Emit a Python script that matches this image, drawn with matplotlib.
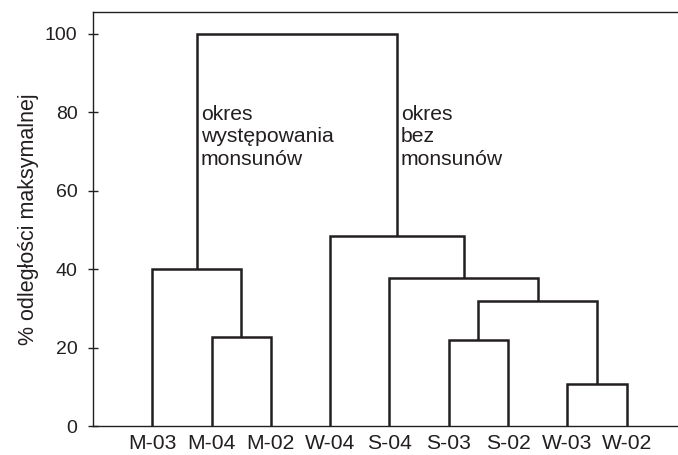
import matplotlib
matplotlib.use("Agg")
import matplotlib.pyplot as plt

plt.rcParams['font.family'] = ['Liberation Sans', 'DejaVu Sans']

# Leaves in dendrogram order
leaves = ['M-03', 'M-04', 'M-02', 'W-04', 'S-04', 'S-03', 'S-02', 'W-03', 'W-02']
# Merges: cluster ids 0..8 are leaves, each merge creates id 9, 10, ...
merge_left = [1, 0, 5, 7, 11, 4, 3, 10]
merge_right = [2, 9, 6, 8, 12, 13, 14, 15]
merge_height = [22.7, 40.0, 22.0, 10.6, 31.8, 37.8, 48.4, 100.0]

y_ticks = [0, 20, 40, 60, 80, 100]
y_label = '% odległości maksymalnej'
note_left = 'okres\nwystępowania\nmonsunów'
note_right = 'okres\nbez\nmonsunów'

ink = '#231f20'

fig = plt.figure(figsize=(6.78, 4.55), dpi=100)
ax = fig.add_axes([0.137, 0.0637, 0.863, 0.9099])

pos = {i: float(i) for i in range(len(leaves))}
hgt = {i: 0.0 for i in range(len(leaves))}
for k, (a, b, h) in enumerate(zip(merge_left, merge_right, merge_height)):
    cid = len(leaves) + k
    xa, xb = pos[a], pos[b]
    ax.plot([xa, xa, xb, xb], [hgt[a], h, h, hgt[b]], color=ink, lw=1.8,
            solid_joinstyle='miter', solid_capstyle='butt', clip_on=False)
    pos[cid] = (xa + xb) / 2
    hgt[cid] = h

left_child = merge_left[-1]
right_child = merge_right[-1]
ax.text(pos[left_child] + 0.07, 81.8, note_left, fontsize=15.2, color=ink,
        va='top', ha='left', linespacing=1.22)
ax.text(pos[right_child] + 0.07, 81.8, note_right, fontsize=15.2, color=ink,
        va='top', ha='left', linespacing=1.22)

ax.set_xlim(-1, 8.864)
ax.set_ylim(0, 105.5)
ax.set_xticks(range(len(leaves)))
ax.set_xticklabels(leaves, fontsize=15.2, color=ink)
ax.set_yticks(y_ticks)
ax.set_yticklabels([str(v) for v in y_ticks], fontsize=14, color=ink)
ax.tick_params(axis='x', length=0, pad=5.5)
ax.tick_params(axis='y', direction='inout', length=7, width=1.0, color=ink, pad=7.5)
ax.set_ylabel(y_label, fontsize=15.5, color=ink, labelpad=4)

for side in ['left', 'top', 'bottom']:
    ax.spines[side].set_color(ink)
    ax.spines[side].set_linewidth(1.0)
ax.spines['right'].set_visible(False)

fig.savefig('out.png', dpi=100)
